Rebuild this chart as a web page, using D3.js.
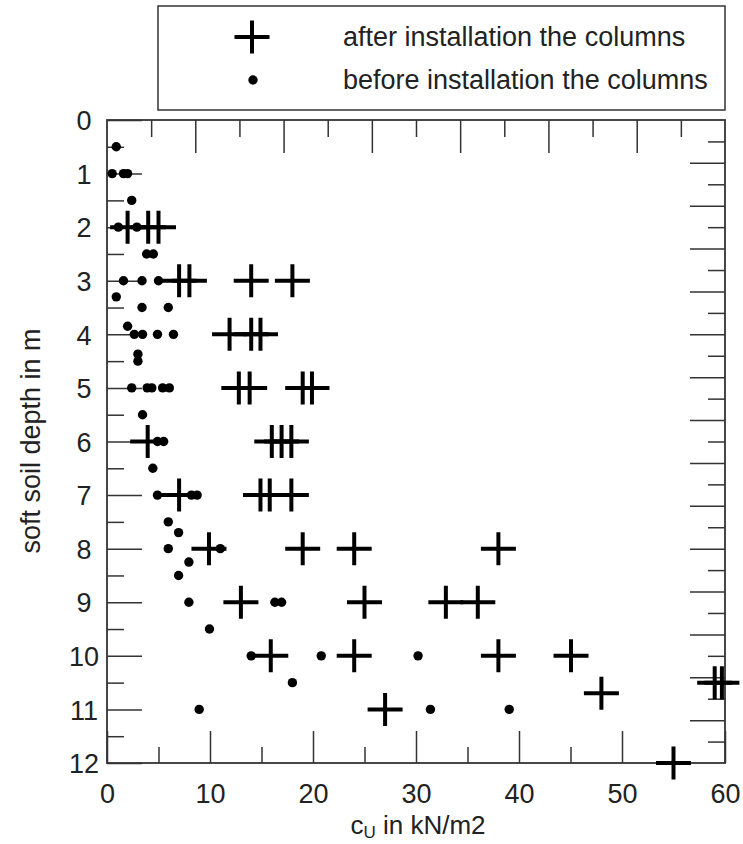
<!DOCTYPE html>
<html>
<head>
<meta charset="utf-8">
<script src="https://cdn.jsdelivr.net/npm/d3@7"></script>
<style>
  body { margin: 0; background: #fff; }
  svg text { font-family: "Liberation Sans", Arial, sans-serif; fill: #222; }
</style>
</head>
<body>
<svg id="chart" width="743" height="844"></svg>
<script>
// before installation (dots)
const beforeCu = [0.9, 0.5, 1.6, 2.0, 2.4, 1.1, 2.9, 3.85, 4.5, 1.6, 3.4, 5.0, 0.9, 3.4, 5.95,
  2.0, 2.65, 3.45, 4.9, 6.45, 3.0, 3.0, 2.4, 3.9, 4.35, 5.4, 6.05, 3.45, 4.9, 5.5, 4.45,
  4.9, 8.2, 8.75, 5.95, 6.95, 5.95, 11.0, 7.95, 6.95, 7.95, 16.3, 16.95, 9.95, 14.0, 20.8,
  30.2, 18.0, 8.95, 31.4, 39.05];
const beforeDepth = [0.5, 1, 1, 1, 1.5, 2, 2, 2.5, 2.5, 3, 3, 3, 3.3, 3.5, 3.5,
  3.85, 4, 4, 4, 4, 4.37, 4.5, 5, 5, 5, 5, 5, 5.5, 6, 6, 6.5,
  7, 7, 7, 7.5, 7.7, 8, 8, 8.25, 8.5, 9, 9, 9, 9.5, 10, 10,
  10, 10.5, 11, 11, 11];

// after installation (crosses)
const afterCu = [2.0, 4.0, 5.0, 7.0, 8.0, 14.0, 18.0, 11.9, 14.0, 14.9, 12.8, 13.85, 19.0, 19.9,
  3.95, 16.0, 16.95, 17.9, 7.0, 14.9, 15.8, 17.9, 9.9, 19.0, 24.0, 38.0, 13.0, 25.0, 32.9, 36.0,
  15.9, 24.0, 38.0, 45.05, 59.0, 59.7, 48.0, 27.0, 55.0];
const afterDepth = [2, 2, 2, 3, 3, 3, 3, 4, 4, 4, 5, 5, 5, 5,
  6, 6, 6, 6, 7, 7, 7, 7, 8, 8, 8, 8, 9, 9, 9, 9,
  10, 10, 10, 10, 10.5, 10.5, 10.7, 11, 12];

const xTickLabels = [0, 10, 20, 30, 40, 50, 60];
const yTickLabels = [0, 1, 2, 3, 4, 5, 6, 7, 8, 9, 10, 11, 12];

const legendLabels = ['after installation the columns', 'before installation the columns'];

const svg = d3.select('#chart');
const plotLeft = 107, plotRight = 725, plotTop = 120, plotBottom = 763;

const x = d3.scaleLinear().domain([0, 60]).range([plotLeft, plotRight]);
const y = d3.scaleLinear().domain([0, 12]).range([plotTop, plotBottom]);
// mirror axes on top / right have their own tick spacing
const xTop = d3.scaleLinear().domain([0, 14]).range([plotLeft, plotRight]);
const yRight = d3.scaleLinear().domain([0, 30]).range([plotTop, plotBottom]);

const axisColor = '#333';

function styleAxis(g) {
  g.select('.domain').remove();
  g.selectAll('line').attr('stroke', axisColor).attr('stroke-width', 1.5);
}

// left axis
svg.append('g')
  .attr('transform', `translate(${plotLeft},0)`)
  .call(d3.axisLeft(y).tickValues(d3.range(0.5, 12, 1)).tickSize(-17).tickFormat(''))
  .call(styleAxis);
const yAxis = svg.append('g')
  .attr('transform', `translate(${plotLeft},0)`)
  .call(d3.axisLeft(y).tickValues(yTickLabels).tickSize(-35).tickFormat(d3.format('d')))
  .call(styleAxis);
yAxis.selectAll('text')
  .attr('x', -23)
  .attr('dy', '0.36em')
  .attr('text-anchor', 'middle')
  .style('font-size', '27px')
  .attr('fill', '#222');

// bottom axis
svg.append('g')
  .attr('transform', `translate(0,${plotBottom})`)
  .call(d3.axisBottom(x).tickValues(d3.range(5, 60, 10)).tickSize(-16).tickFormat(''))
  .call(styleAxis);
const xAxis = svg.append('g')
  .attr('transform', `translate(0,${plotBottom})`)
  .call(d3.axisBottom(x).tickValues(xTickLabels).tickSize(-32).tickFormat(d3.format('d')))
  .call(styleAxis);
xAxis.selectAll('text')
  .attr('y', 40)
  .attr('dy', 0)
  .style('font-size', '27px')
  .attr('fill', '#222');

// top axis
svg.append('g')
  .attr('transform', `translate(0,${plotTop})`)
  .call(d3.axisTop(xTop).tickValues(d3.range(1, 14, 2)).tickSize(-17).tickFormat(''))
  .call(styleAxis);
svg.append('g')
  .attr('transform', `translate(0,${plotTop})`)
  .call(d3.axisTop(xTop).tickValues(d3.range(2, 14, 2)).tickSize(-33).tickFormat(''))
  .call(styleAxis);

// right axis
svg.append('g')
  .attr('transform', `translate(${plotRight},0)`)
  .call(d3.axisRight(yRight).tickValues(d3.range(1, 30, 2)).tickSize(-17).tickFormat(''))
  .call(styleAxis);
svg.append('g')
  .attr('transform', `translate(${plotRight},0)`)
  .call(d3.axisRight(yRight).tickValues(d3.range(2, 30, 2)).tickSize(-35).tickFormat(''))
  .call(styleAxis);

// frame
svg.append('rect')
  .attr('x', plotLeft)
  .attr('y', plotTop)
  .attr('width', plotRight - plotLeft)
  .attr('height', plotBottom - plotTop)
  .attr('fill', 'none')
  .attr('stroke', axisColor)
  .attr('stroke-width', 1.8);

const plusPath = 'M-17.5,0H17.5M0,-16.5V16.5';

// before: dots
svg.append('g')
  .selectAll('circle')
  .data(d3.zip(beforeCu, beforeDepth))
  .enter()
  .append('circle')
  .attr('cx', (d) => x(d[0]))
  .attr('cy', (d) => y(d[1]))
  .attr('r', 4.7)
  .attr('fill', '#000');

// after: crosses
svg.append('g')
  .selectAll('path')
  .data(d3.zip(afterCu, afterDepth))
  .enter()
  .append('path')
  .attr('d', plusPath)
  .attr('transform', (d) => `translate(${x(d[0])},${y(d[1])})`)
  .attr('stroke', '#000')
  .attr('stroke-width', 4)
  .attr('fill', 'none');

// axis titles
const xTitle = svg.append('text')
  .attr('x', 418)
  .attr('y', 834)
  .attr('text-anchor', 'middle')
  .style('font-size', '26px');
xTitle.append('tspan').text('c');
xTitle.append('tspan').attr('dy', 4).style('font-size', '17px').text('U');
xTitle.append('tspan').attr('dy', -4).text(' in kN/m2');

svg.append('text')
  .attr('transform', 'translate(40,441) rotate(-90)')
  .attr('text-anchor', 'middle')
  .style('font-size', '27px')
  .text('soft soil depth in m');

// legend
const legend = svg.append('g');
legend.append('rect')
  .attr('x', 158)
  .attr('y', 6)
  .attr('width', 567)
  .attr('height', 104)
  .attr('fill', '#fff')
  .attr('stroke', axisColor)
  .attr('stroke-width', 1.5);
legend.append('path')
  .attr('d', plusPath)
  .attr('transform', 'translate(252,37)')
  .attr('stroke', '#000')
  .attr('stroke-width', 4)
  .attr('fill', 'none');
legend.append('circle')
  .attr('cx', 253)
  .attr('cy', 80)
  .attr('r', 4.7)
  .attr('fill', '#000');
legend.selectAll('text.label')
  .data(legendLabels)
  .enter()
  .append('text')
  .classed('label', true)
  .attr('x', 343)
  .attr('y', (d, i) => 46 + i * 43)
  .style('font-size', '27px')
  .text((d) => d);
</script>
</body>
</html>
